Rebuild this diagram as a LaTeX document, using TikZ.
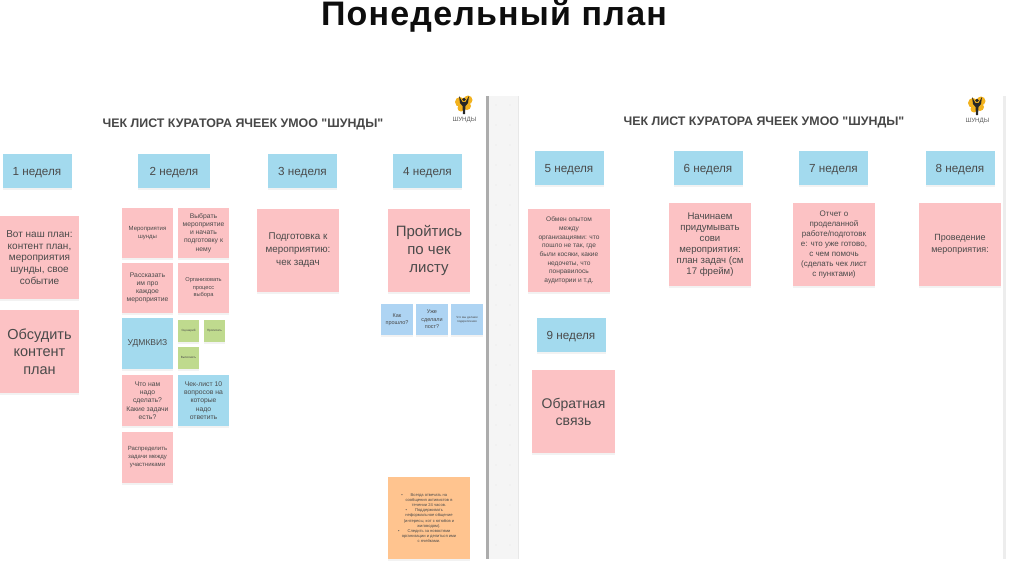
\documentclass[tikz,border=0pt]{standalone}
\usepackage{fontspec}
\setmainfont[Ligatures=TeXOff]{Liberation Sans}
\usetikzlibrary{positioning,shadows}
\definecolor{stickyred}{HTML}{FCC2C4}
\definecolor{stickyblue}{HTML}{A3DAEE}
\definecolor{stickypale}{HTML}{AED4F3}
\definecolor{stickygreen}{HTML}{BFDA8E}
\definecolor{stickyorange}{HTML}{FFC48F}
\definecolor{inktext}{HTML}{4A4A4A}
\definecolor{railbg}{HTML}{F5F5F5}
\definecolor{railline}{HTML}{ACACAC}
\definecolor{logoyellow}{HTML}{F2B21E}
\newcommand{\dotitem}{\llap{•\hspace{8pt}}}
\tikzset{
  sticky/.style={inner sep=1pt,align=center,text=inktext,
    drop shadow={shadow xshift=0pt,shadow yshift=-2pt,opacity=.1}},
  week/.style={sticky,fill=stickyblue,minimum width=69pt,minimum height=34pt,
    text height=8pt,text depth=0pt,font=\fontsize{11.7}{13}\selectfont},
  big/.style={sticky,fill=stickyred,minimum width=82pt,minimum height=83pt},
  cell/.style={sticky,fill=stickyred,minimum width=51pt,minimum height=50.5pt,font=\fontsize{6}{8}\selectfont},
  cellb/.style={cell,fill=stickyblue},
  tiny/.style={sticky,fill=stickygreen,minimum width=21pt,minimum height=22pt,font=\fontsize{3}{4}\selectfont},
  ask/.style={sticky,fill=stickypale,minimum width=32pt,minimum height=31pt,font=\fontsize{5.5}{7.5}\selectfont},
  head/.style={font=\bfseries\fontsize{12.4}{14}\selectfont,text=black!72},
  logotext/.style={font=\fontsize{6.2}{7}\selectfont,text=black!65,inner sep=0pt},
}
\begin{document}
\begin{tikzpicture}[x=1pt,y=-1pt]
  \useasboundingbox (0,0) rectangle (1024,574);
  % title
  \node[anchor=base,font=\bfseries\fontsize{34}{36}\selectfont\addfontfeature{LetterSpace=3.5},text=black!95] (title) at (494,25.5) {Понедельный план};
  % divider between the two boards
  \fill[railbg] (487,96) rectangle (518,559);
  \fill[black!9] (517.5,96) rectangle (518.5,559);
  \fill[railline] (486.2,96) rectangle (488.6,559);
  \fill[black!7] (1003,96) rectangle (1006,559);
  \foreach \yy in {105,125,...,555}
    \foreach \xx in {496,510}
      \fill[black!9] (\xx,\yy) circle (.6);
  % headings
  \node[head] (headl) at (243,124) {ЧЕК ЛИСТ КУРАТОРА ЯЧЕЕК УМОО "ШУНДЫ"};
  \node[head] (headr) at (764,122) {ЧЕК ЛИСТ КУРАТОРА ЯЧЕЕК УМОО "ШУНДЫ"};
  % logos
  \foreach \lx/\ly/\ln in {464/104/logol,977/105/logor}{
    \fill[logoyellow] (\lx-4,\ly-2) circle (5);
    \fill[logoyellow] (\lx+4,\ly-4) circle (4.5);
    \fill[logoyellow] (\lx+3,\ly+2) circle (4);
    \fill[logoyellow] (\lx-3,\ly+4) circle (3.5);
    \fill[black!85] (\lx-5,\ly-8) -- (\lx-1.5,\ly-2) -- (\lx+1.5,\ly-2) -- (\lx+5,\ly-8) -- (\lx+4,\ly-1) -- (\lx+1.5,\ly+2) -- (\lx+1,\ly+10) -- (\lx-1,\ly+10) -- (\lx-1.5,\ly+2) -- (\lx-4,\ly-1) -- cycle;
    \fill[black!85] (\lx,\ly-4.5) circle (1.8);
    \node[logotext] (\ln) at (\lx+.5,\ly+15.5) {ШУНДЫ};
  }
  % weeks
  \node[week] (w1) at (37,171) {1 неделя};
  \node[week,minimum width=72pt] (w2) at (174,171) {2 неделя};
  \node[week] (w3) at (302.5,171) {3 неделя};
  \node[week] (w4) at (427.5,171) {4 неделя};
  \node[week] (w5) at (569,168) {5 неделя};
  \node[week] (w6) at (708,168) {6 неделя};
  \node[week] (w7) at (833.5,168) {7 неделя};
  \node[week] (w8) at (960,168) {8 неделя};
  \node[week] (w9) at (571,335) {9 неделя};
  % week 1
  \node[big,minimum width=79pt,font=\fontsize{10}{11.7}\selectfont] (plan) at (39.5,257.5) {Вот наш план:\\контент план,\\мероприятия\\шунды, свое\\событие};
  \node[big,minimum width=79pt,font=\fontsize{14.5}{17.5}\selectfont] (talk) at (39.5,351.5) {Обсудить\\контент\\план};
  % week 2
  \node[cell] (c11) at (147.5,233) {Мероприятия\\шунды};
  \node[cell,font=\fontsize{6.8}{8.2}\selectfont] (c12) at (203.5,233) {Выбрать\\мероприятие\\и начать\\подготовку к\\нему};
  \node[cell,font=\fontsize{6.8}{8.2}\selectfont] (c21) at (147.5,288) {Рассказать\\им про\\каждое\\мероприятие};
  \node[cell,font=\fontsize{5.7}{7.5}\selectfont] (c22) at (203.5,288) {Организовать\\процесс\\выбора};
  \node[cellb,font=\fontsize{8.5}{10}\selectfont] (quiz) at (147.5,343.5) {УДМКВИЗ};
  \node[tiny] (g1) at (188.5,331) {Сценарий};
  \node[tiny] (g2) at (214.5,331) {Прописать};
  \node[tiny] (g3) at (188.5,357.5) {Выполнить};
  \node[cell,font=\fontsize{6.8}{8.2}\selectfont] (c41) at (147.5,400.5) {Что нам\\надо\\сделать?\\Какие задачи\\есть?};
  \node[cellb,font=\fontsize{6.8}{8.2}\selectfont] (c42) at (203.5,400.5) {Чек-лист 10\\вопросов на\\которые\\надо\\ответить};
  \node[cell] (c51) at (147.5,457.5) {Распределить\\задачи между\\участниками};
  % week 3
  \node[big,font=\fontsize{9.8}{13}\selectfont] (prep) at (298,250.5) {Подготовка к\\мероприятию:\\чек задач};
  % week 4
  \node[big,font=\fontsize{15}{18}\selectfont] (walk) at (429,250.5) {Пройтись\\по чек\\листу};
  \node[ask] (a1) at (397,319.5) {Как\\прошло?};
  \node[ask] (a2) at (432,319.5) {Уже\\сделали\\пост?};
  \node[ask,font=\fontsize{3}{4}\selectfont] (a3) at (467,319.5) {Что мы делаем\\подкрепления};
  \node[sticky,fill=stickyorange,minimum width=82pt,minimum height=82pt,font=\fontsize{4.1}{5.2}\selectfont] (rules) at (429,518) {\dotitem Всегда отвечать на\\сообщения активистов в\\течении 24 часов.\\\dotitem Поддерживать\\неформальное общение\\(интересы, кот с ютюбов и\\жиговодом).\\\dotitem Следить за новостями\\организации и делиться ими\\с ячейками.};
  % week 5
  \node[big,font=\fontsize{6.6}{8.7}\selectfont] (share) at (569,250.5) {Обмен опытом\\между\\организациями: что\\пошло не так, где\\были косяки, какие\\недочеты, что\\понравилось\\аудитории и т.д.};
  % week 6
  \node[big,font=\fontsize{9.6}{10.9}\selectfont] (invent) at (710,244.5) {Начинаем\\придумывать\\сови\\мероприятия:\\план задач (см\\17 фрейм)};
  % week 7
  \node[big,font=\fontsize{8}{9.9}\selectfont] (report) at (834,244.5) {Отчет о\\проделанной\\работе/подготовк\\е: что уже готово,\\с чем помочь\\(сделать чек лист\\с пунктами)};
  % week 8
  \node[big,font=\fontsize{9}{12}\selectfont] (event) at (960,244.5) {Проведение\\мероприятия:};
  % week 9
  \node[big,minimum width=83pt,font=\fontsize{14}{17}\selectfont] (back) at (573.5,411.5) {Обратная\\связь};
\end{tikzpicture}
\end{document}
